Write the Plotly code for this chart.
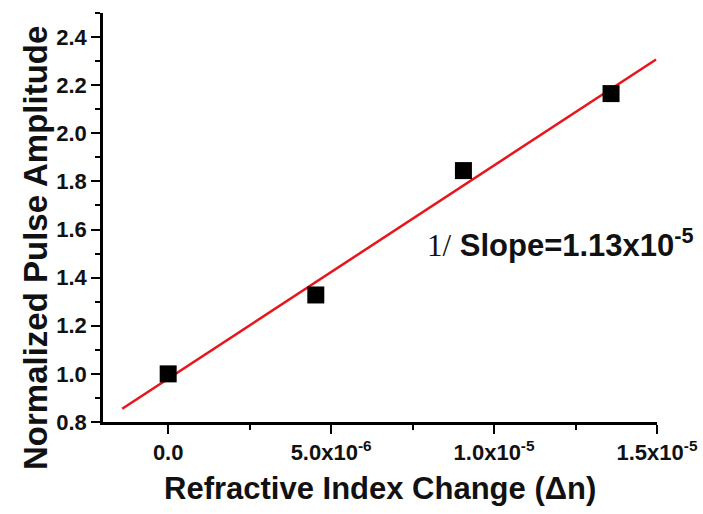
import plotly.graph_objects as go

# Data
delta_n = [0.0, 4.53e-6, 9.06e-6, 1.359e-5]
amplitude = [1.0, 1.328, 1.845, 2.165]

# Linear fit line end points
fit_x = [-1.41e-6, 1.497e-5]
fit_y = [0.855, 2.307]

x_tick_vals = [0.0, 5e-6, 1e-5, 1.5e-5]
x_tick_text = ["0.0", "5.0x10<sup>-6</sup>", "1.0x10<sup>-5</sup>", "1.5x10<sup>-5</sup>"]
y_tick_vals = [0.8, 1.0, 1.2, 1.4, 1.6, 1.8, 2.0, 2.2, 2.4]
y_tick_text = ["0.8", "1.0", "1.2", "1.4", "1.6", "1.8", "2.0", "2.2", "2.4"]

x_title = "Refractive Index Change (Δn)"
y_title = "Normalized Pulse Amplitude"
note_text = ("<span style='font-family:Liberation Serif;font-weight:normal'>1/</span> "
             "<b>Slope=1.13x10<sup>-5</sup></b>")

SANS = "Liberation Sans, Arial, sans-serif"

fig = go.Figure()
fig.add_trace(go.Scatter(
    x=fit_x, y=fit_y, mode="lines",
    line=dict(color="#e8151b", width=2.5),
    showlegend=False, hoverinfo="skip",
))
fig.add_trace(go.Scatter(
    x=delta_n, y=amplitude, mode="markers",
    marker=dict(symbol="square", size=17, color="black", line=dict(width=0)),
    showlegend=False,
))

fig.update_xaxes(
    range=[-2e-6, 1.5e-5], automargin=False,
    showline=True, linecolor="black", linewidth=2.5,
    ticks="outside", ticklen=9, tickwidth=2, tickcolor="black",
    showgrid=False, zeroline=False,
    tickmode="array", tickvals=x_tick_vals,
    ticktext=["<b>" + t + "</b>" for t in x_tick_text],
    tickfont=dict(family=SANS, size=22, color="#111"),
    minor=dict(ticks="outside", ticklen=5, tickwidth=2, tickcolor="black",
               dtick=2.5e-6, tick0=0, showgrid=False),
)
fig.update_yaxes(
    range=[0.8, 2.5], automargin=False,
    showline=True, linecolor="black", linewidth=2.5,
    ticks="outside", ticklen=9, tickwidth=2, tickcolor="black",
    showgrid=False, zeroline=False,
    tickmode="array", tickvals=y_tick_vals,
    ticktext=["<b>" + t + "</b>" for t in y_tick_text],
    tickfont=dict(family=SANS, size=22, color="#111"),
    minor=dict(ticks="outside", ticklen=5, tickwidth=2, tickcolor="black",
               dtick=0.1, tick0=0.8, showgrid=False),
)

# Axis titles placed as annotations for exact positioning
fig.add_annotation(
    x=0.5, y=-0.162, xref="paper", yref="paper",
    text="<b>" + x_title + "</b>", showarrow=False,
    xanchor="center", yanchor="middle",
    font=dict(family=SANS, size=31, color="#111"),
)
fig.add_annotation(
    x=-0.123, y=0.425, xref="paper", yref="paper",
    text="<b>" + y_title + "</b>", showarrow=False, textangle=-90,
    xanchor="center", yanchor="middle",
    font=dict(family=SANS, size=33, color="#111"),
)

fig.add_annotation(
    x=7.88e-6, y=1.545, xref="x", yref="y",
    text=note_text, showarrow=False, xanchor="left", yanchor="middle",
    font=dict(family=SANS, size=31, color="#111"),
)

fig.update_layout(
    width=703, height=514,
    margin=dict(l=103, r=46, t=13, b=92, autoexpand=False),
    paper_bgcolor="white", plot_bgcolor="white",
)

fig.write_html("out.html")
